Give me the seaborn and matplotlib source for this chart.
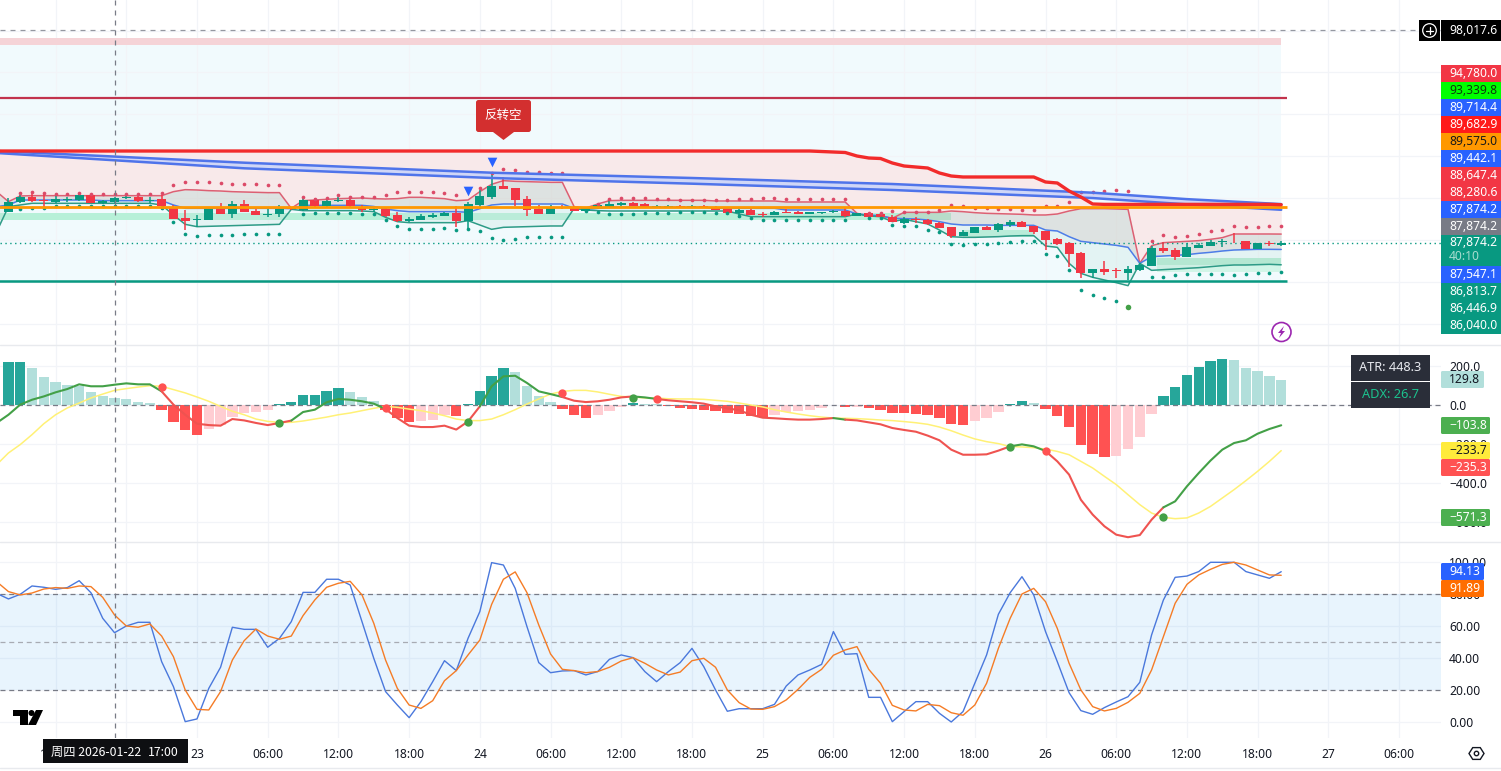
import numpy as np
import matplotlib
matplotlib.use("Agg")
import matplotlib.pyplot as plt
from matplotlib.patches import Circle, FancyBboxPatch, Polygon, Rectangle
import seaborn as sns

nan = float("nan")

# OHLC, one bar per hour, first bar is 2026-01-22 08:00
opens = [
    89352, 89798, 90053, 89909, 89814, 89909, 89909, 90132, 89750, 89814,
    90005, 90053, 89878, 89957, 89543, 89050, 88938, 88954, 89495, 89257,
    89718, 89384, 89209, 89257, 89511, 89432, 89909, 89639, 89862, 89909,
    89559, 89432, 89464, 89177, 88922, 88954, 89097, 89161, 89288, 88922,
    89687, 90069, 90578, 90498, 89957, 89479, 89257, 89591, 89591, 89400,
    89511, 89591, 89655, 89766, 89718, 89575, 89591, 89630, 89590, 89630,
    89591, 89479, 89273, 89448, 89257, 89209, 89352, 89336, 89257, 89304,
    89320, 89368, 89145, 89273, 89241, 89082, 88827, 89018, 88954, 88811,
    88620, 88190, 88349, 88636, 88476, 88715, 88858, 88667, 88429, 88047,
    87840, 87362, 86439, 86614, 86550, 86439, 86566, 86757, 87617, 87505,
    87203, 87633, 87728, 87887, 87951, 87935, 87569, 87855, 87776,
]
highs = [
    89989, 90148, 90307, 90228, 90148, 90069, 90228, 90132, 89909, 90069,
    90100, 90100, 90069, 90148, 89671, 89432, 89193, 89495, 89750, 89878,
    89909, 89464, 89464, 89671, 89530, 89989, 89989, 89941, 90069, 89989,
    89671, 89543, 89511, 89352, 89082, 89241, 89273, 89352, 89639, 89830,
    90387, 91183, 91024, 90498, 90100, 89671, 89671, 89671, 89620, 89560,
    89700, 89909, 89830, 89800, 89750, 89670, 89680, 89670, 89660, 89670,
    89630, 89510, 89480, 89480, 89352, 89380, 89464, 89360, 89340, 89350,
    89420, 89511, 89300, 89304, 89304, 89193, 89081, 89081, 88990, 88850,
    88636, 88476, 88620, 88660, 88795, 88954, 88906, 88690, 88450, 88078,
    87919, 87442, 86614, 86996, 86677, 86757, 86884, 87712, 87919, 87601,
    87871, 87871, 88000, 88031, 88317, 87960, 87860, 87951, 87951,
]
lows = [
    89352, 89750, 89798, 89511, 89750, 89830, 89878, 89750, 89718, 89782,
    89941, 89830, 89750, 89432, 89018, 88477, 88604, 88954, 89257, 89066,
    89352, 89177, 89113, 89113, 89440, 89400, 89591, 89591, 89814, 89511,
    89352, 89352, 89113, 88875, 88859, 88938, 89050, 89145, 88636, 88508,
    89495, 89941, 90435, 89623, 89145, 89241, 89241, 89464, 89384, 89370,
    89480, 89560, 89620, 89600, 89560, 89540, 89550, 89550, 89550, 89560,
    89432, 89304, 89034, 89209, 89113, 89180, 89304, 89257, 89240, 89241,
    89300, 89113, 89130, 89034, 88986, 88859, 88760, 88827, 88715, 88560,
    88078, 88190, 88349, 88492, 88397, 88604, 88604, 88285, 87521, 87760,
    86725, 86168, 86168, 86327, 86168, 86088, 86534, 86757, 87362, 87044,
    87203, 87601, 87728, 87680, 87871, 87585, 87569, 87712, 87712,
]
closes = [
    89830, 90069, 89862, 89862, 89957, 89957, 90132, 89750, 89878, 90005,
    90037, 89862, 89925, 89623, 89018, 88922, 89002, 89495, 89257, 89718,
    89352, 89209, 89257, 89495, 89464, 89909, 89639, 89862, 89909, 89639,
    89432, 89464, 89161, 88922, 89002, 89145, 89193, 89288, 88922, 89718,
    90100, 90578, 90435, 89909, 89432, 89241, 89527, 89543, 89384, 89543,
    89655, 89718, 89782, 89639, 89591, 89623, 89639, 89590, 89625, 89590,
    89432, 89304, 89448, 89209, 89209, 89352, 89304, 89257, 89320, 89336,
    89400, 89145, 89273, 89113, 89113, 88859, 89018, 88954, 88763, 88588,
    88190, 88381, 88604, 88492, 88747, 88858, 88620, 88381, 88015, 87824,
    87346, 86423, 86614, 86486, 86518, 86614, 86789, 87617, 87473, 87203,
    87649, 87760, 87903, 87967, 87935, 87585, 87840, 87824, 87874,
]

# stop dots over and under the candles
upper_dots = [
    nan, 90228, 90276, 90228, 90180, 90180, 90228, 90180, 90180, 90180,
    90180, 90180, 90180, 90228, 90610, 90785, 90785, 90753, 90721, 90658,
    90658, 90658, 90610, 90610, nan, 90037, 89941, 89989, 90132, 90069,
    90069, 90037, 90132, 90276, 90307, 90276, 90276, 90228, 90132, nan,
    90467, 91183, 91374, 91326, 91263, 91263, 91215, 91215, nan, nan,
    89718, 89941, 89989, 89989, 89989, 89941, 89941, 89893, 89893, 89893,
    89893, 89893, 89941, 89941, 89989, 89989, 89941, 89941, 89941, 89941,
    89941, 89941, nan, 89304, 89304, 89400, 89352, 89352, 89352, 89416,
    89670, 89623, 89543, 89511, 89463, 89463, 89416, 89416, 89623, 89623,
    89830, 90275, 90275, 90323, 90371, 90323, nan, 87967, 88222, 88126,
    88174, 88269, 88413, 88460, 88651, 88604, 88604, 88651, 88651,
]
lower_dots = [
    nan, 89495, 89511, 89511, 89639, 89639, 89639, 89639, 89639, 89639,
    89639, 89639, 89639, 89511, 88875, 88302, 88174, 88222, 88222, 88254,
    88302, 88302, 88302, 88302, nan, 89225, 89304, 89304, 89304, 89304,
    89225, 89225, 88938, 88652, 88540, 88508, 88508, 88556, 88461, 88540,
    88413, 88079, 87983, 88063, 88126, 88126, 88126, 88126, nan, 89400,
    89320, 89225, 89225, 89225, 89273, 89273, 89273, 89320, 89320, 89320,
    89273, 89273, 89129, 89034, 88938, 88938, 88938, 88938, 88938, 88938,
    88938, 88938, nan, 89034, 89034, 88700, 88683, 88683, 88492, 88397,
    87824, 87744, 87792, 87792, 87840, 87887, 87935, 87935, 87314, 87219,
    86550, 85595, 85356, 85213, 85070, 84799, nan, 86216, 86216, 86311,
    86359, 86359, 86359, 86359, 86311, 86359, 86407, 86407, 86447,
]

# band around the candles, these start one bar earlier (off the left edge)
upper_band = [
    90307, 89830, 90100, 90116, 90116, 90116, 90116, 90116, 90116, 90116,
    90116, 90116, 90116, 90116, 90116, 90307, 90403, 90387, 90355, 90339,
    90307, 90291, 90276, 90260, 90260, 89511, 89878, 89909, 89941, 89973,
    89989, 90005, 89973, 89957, 89973, 90037, 90037, 90005, 89973, 89878,
    89909, 90307, 90658, 90833, 90801, 90785, 90769, 90753, 90753, 89591,
    89527, 89718, 89878, 89893, 89893, 89893, 89893, 89893, 89893, 89893,
    89893, 89862, 89862, 89862, 89862, 89862, 89862, 89814, 89814, 89814,
    89814, 89814, 89814, 89273, 89145, 89145, 89034, 89320, 89320, 89320,
    89320, 89384, 89352, 89304, 89272, 89256, 89241, 89225, 89193, 89193,
    89241, 89384, 89495, 89495, 89495, 89479, 89463, 86884, 87728, 87871,
    87903, 87935, 87967, 88031, 88110, 88285, 88285, 88285, 88285, 88281,
]
mid_band = [
    89591, 89671, 89909, 89909, 89909, 89909, 89909, 89909, 89909, 89878,
    89878, 89878, 89878, 89878, 89878, 89671, 89511, 89511, 89511, 89511,
    89511, 89511, 89511, 89511, 89511, 89495, 89655, 89655, 89655, 89655,
    89655, 89655, 89600, 89480, 89400, 89352, 89352, 89352, 89352, 89352,
    89320, 89495, 89671, 89718, 89718, 89718, 89718, 89718, 89718, 89511,
    89464, 89511, 89560, 89560, 89560, 89560, 89560, 89560, 89560, 89560,
    89560, 89511, 89511, 89511, 89511, 89511, 89511, 89432, 89432, 89432,
    89432, 89432, 89432, 89241, 89193, 89161, 89034, 89018, 89002, 88954,
    88874, 88763, 88715, 88715, 88715, 88699, 88699, 88699, 88699, 88476,
    88429, 88158, 87935, 87871, 87808, 87744, 87649, 86884, 87203, 87235,
    87266, 87298, 87362, 87410, 87473, 87521, 87537, 87553, 87553, 87547,
]
lower_band = [
    88397, 89591, 89671, 89750, 89750, 89750, 89750, 89750, 89750, 89750,
    89750, 89750, 89750, 89750, 89671, 89193, 88747, 88636, 88652, 88668,
    88684, 88699, 88715, 88731, 88747, 89464, 89400, 89400, 89400, 89400,
    89400, 89384, 89352, 89082, 88875, 88827, 88827, 88827, 88827, 88827,
    88922, 88715, 88508, 88604, 88620, 88636, 88652, 88668, 88668, 89511,
    89432, 89400, 89384, 89384, 89384, 89384, 89384, 89384, 89384, 89384,
    89384, 89384, 89384, 89241, 89113, 89113, 89113, 89113, 89113, 89113,
    89113, 89113, 89113, 89241, 89145, 89113, 88875, 88986, 88874, 88763,
    88476, 88158, 88126, 88126, 88142, 88158, 88190, 88206, 88206, 87712,
    87649, 86884, 86407, 86216, 86088, 85961, 85818, 86884, 86550, 86582,
    86614, 86646, 86677, 86725, 86773, 86805, 86805, 86821, 86837, 86814,
]
thick_red = [92249] * 70 + [
    92225, 92201, 92178, 92010, 91915, 91891, 91676, 91533, 91485, 91437,
    91199, 91055, 91008, 91008, 91008, 91008, 91008, 91008, 91008, 90769,
    90721, 90339, 90052, 89718, 89700, 89700, 89700, 89700, 89700, 89700,
    89700, 89700, 89700, 89700, 89700, 89700, 89700, 89700, 89700, 89683,
]

# two slow averages, read at a few bars only
ema_hours = [-17, 4, 25, 42, 59, 76, 84, 92]
ema_upper = [92249, 91691, 91213, 90960, 90673, 90258, 89950, 89714]
ema_lower = [92154, 91423, 90960, 90688, 90387, 90002, 89700, 89442]

level_top_red = 94780
level_orange = 89575
level_green = 86040
level_high = 98017.6
level_last = 87874.2

hist = [
    222, 222, 191, 145, 120, 104, 99, 68, 48, 38,
    32, 17, 12, -24, -85, -126, -152, -121, -101, -60,
    -39, -37, -24, 3, 17, 53, 53, 73, 89, 68,
    43, 22, -24, -65, -85, -84, -75, -50, -55, 7,
    73, 150, 191, 171, 99, 48, 17, -19, -50, -65,
    -50, -29, -9, 12, 7, 3, -3, -15, -19, -24,
    -29, -41, -44, -55, -60, -50, -35, -33, -24, -14,
    -1, -10, -8, -14, -24, -39, -39, -44, -50, -65,
    -96, -101, -80, -65, -34, 7, 22, 10, -19, -55,
    -111, -203, -250, -265, -260, -224, -162, -44, 48, 94,
    156, 197, 227, 238, 232, 191, 176, 150, 130,
]
macd = [
    -92, -50, 2, 27, 44, 65, 82, 106, 96, 96,
    104, 111, 106, 106, 70, 2, -50, -96, -103, -106,
    -72, -79, -92, -103, -92, -80, -36, -24, 14, 31,
    27, 19, 7, -21, -67, -106, -113, -113, -106, -126,
    -84, -7, 96, 147, 150, 113, 70, 56, 41, 22,
    15, 19, 27, 39, 44, 39, 31, 24, 19, 14,
    7, -7, -17, -27, -50, -65, -68, -72, -75, -75,
    -72, -67, -75, -79, -89, -99, -118, -128, -137, -157,
    -181, -229, -255, -255, -253, -234, -212, -202, -212, -236,
    -289, -357, -486, -562, -622, -665, -678, -667, -588, -525,
    -494, -417, -349, -285, -229, -195, -181, -147, -123, -104,
]
signal = [
    -306, -246, -203, -152, -96, -50, -15, 10, 36, 56,
    75, 84, 92, 99, 96, 79, 62, 41, 19, -7,
    -32, -50, -72, -84, -89, -89, -82, -72, -62, -50,
    -41, -29, -17, -7, -12, -21, -29, -41, -55, -72,
    -80, -80, -72, -50, -24, 5, 31, 56, 70, 75,
    75, 67, 55, 44, 41, 36, 36, 32, 31, 31,
    29, 24, 19, 10, 0, -10, -24, -36, -46, -55,
    -62, -67, -68, -70, -73, -77, -80, -85, -91, -99,
    -113, -132, -154, -174, -188, -198, -213, -215, -219, -226,
    -238, -255, -289, -323, -366, -408, -460, -511, -554, -576,
    -583, -579, -554, -520, -477, -434, -388, -340, -289, -234,
]
cross_down_hours = [-3, 16, 31, 39, 72]
cross_down_values = [91, -15, 62, 31, -236]
cross_up_hours = [7, 23, 37, 69, 82]
cross_up_values = [-92, -87, 36, -215, -574]

stoch_k = [
    80.6, 77.1, 80, 85.2, 84.4, 83.1, 84.2, 88.5, 81, 65,
    56, 60.2, 62.5, 62.5, 37.9, 22.3, 0.4, 2.1, 21.2, 34.4,
    59.4, 58.1, 58.1, 46.9, 52.5, 62.9, 81.2, 81.2, 89.4, 89.4,
    85.8, 62.9, 40, 19.2, 10.8, 2.9, 12.9, 25.4, 38.5, 32.3,
    52.5, 69.2, 99.8, 98.3, 83.7, 59.8, 37.3, 31, 32.1, 32.3,
    29.6, 31.7, 39.4, 42.1, 40.4, 31.7, 25.4, 31.7, 37.3, 46.2,
    34.8, 20.2, 6.9, 8.5, 8.5, 8.5, 11.2, 22.7, 29.6, 32.7,
    36.2, 56.7, 42.5, 42.9, 15.6, 15.6, 0.4, 6.7, 12.9, 12.9,
    5.6, 0.2, 6.7, 24.4, 42.1, 67.5, 81, 91, 79.6, 56.7,
    37.9, 18.5, 7.3, 5, 9.2, 12.7, 16, 25, 54.6, 76.4,
    90.6, 91.4, 94.2, 100, 100, 100, 94.2, 92.1, 90, 94.13,
]
stoch_d = [
    87.9, 81.7, 79.6, 80.8, 83.3, 84.2, 83.7, 85.2, 84.8, 78.1,
    67.1, 60.2, 59.4, 61.5, 53.9, 41, 20.2, 8.1, 7.7, 19.2,
    38.9, 51, 58.3, 53.9, 51.9, 53.9, 66.7, 76.5, 84.4, 86.9,
    88.1, 79.6, 61.9, 38.9, 21.2, 10.8, 8.7, 13.5, 26, 32.3,
    42.1, 51.4, 73.7, 89.4, 94, 81, 60.8, 42.7, 33.1, 32.3,
    31, 31.7, 34.4, 38.3, 40.4, 36.9, 32.7, 29.6, 31.4, 38.5,
    40, 34.4, 20.2, 12.3, 8.3, 8.1, 9.8, 14, 20.6, 28.1,
    33.1, 41.9, 45.2, 47.3, 33.1, 24.4, 10.6, 7.7, 7.1, 11.2,
    10.4, 6, 4.4, 10.8, 24.4, 46.2, 65, 80.2, 83.7, 75.4,
    58.7, 36.9, 20.2, 9.8, 7.1, 8.7, 12.5, 18.1, 32.7, 53.5,
    74.4, 86.2, 92.1, 95.6, 98.7, 100, 98.3, 95.2, 92.1, 91.89,
]

time_ticks = [-12, -6, 0, 6, 12, 18, 24, 30, 36, 42, 48, 54, 60, 66, 72, 78, 84, 90, 96, 102]
time_labels = ["12:00", "18:00", "23", "06:00", "12:00", "18:00", "24", "06:00", "12:00", "18:00",
               "25", "06:00", "12:00", "18:00", "26", "06:00", "12:00", "18:00", "27", "06:00"]

# right hand price tags: text, colour, text colour, top, bottom
price_tags = [
    ("94,780.0", "#f23645", "white", 65, 82),
    ("93,339.8", "#00ff00", "#0b3d0b", 82, 99),
    ("89,714.4", "#2962ff", "white", 99, 116),
    ("89,682.9", "#ff1a1a", "white", 116, 133),
    ("89,575.0", "#ff9800", "#1a1a1a", 133, 150),
    ("89,442.1", "#2962ff", "white", 150, 167),
    ("88,647.4", "#f23645", "white", 167, 184),
    ("88,280.6", "#f23645", "white", 184, 201),
    ("87,874.2", "#2962ff", "white", 201, 218),
    ("87,874.2", "#787b86", "white", 218, 235),
    ("87,547.1", "#2962ff", "white", 266, 283),
    ("86,813.7", "#089981", "white", 283, 300),
    ("86,446.9", "#089981", "white", 300, 317),
    ("86,040.0", "#089981", "white", 317, 334),
]
macd_tags = [
    ("129.8", "#b2dfdb", "#131722", 371, 388, 1484),
    ("−103.8", "#4caf50", "white", 417, 434, 1490),
    ("−233.7", "#ffeb3b", "#131722", 442, 459, 1490),
    ("−235.3", "#ff5252", "white", 459, 476, 1490),
    ("−571.3", "#4caf50", "white", 509, 526, 1490),
    ("94.13", "#2962ff", "white", 563, 580, 1484),
    ("91.89", "#ff6d00", "white", 580, 597, 1484),
]

UP = "#089981"
DOWN = "#f23645"
W, H = 1501, 771
PLOT_RIGHT = 1441
FS = 8.7


def add_panel(fig, top, bottom):
    ax = fig.add_axes([0, 1 - bottom / H, PLOT_RIGHT / W, (bottom - top) / H])
    ax.set_xlim(-197 / 11.785, (PLOT_RIGHT - 197) / 11.785)
    ax.set_xticks(time_ticks)
    ax.set_xticklabels([])
    ax.grid(True, color="#f2f4f8", lw=0.9)
    ax.set_axisbelow(True)
    ax.tick_params(length=0, labelsize=FS, labelcolor="#131722")
    ax.yaxis.tick_right()
    ax.set_facecolor("white")
    for s in ax.spines.values():
        s.set_visible(False)
    return ax


def line(ax, x, y, color, lw, z=2):
    sns.lineplot(x=x, y=y, ax=ax, color=color, lw=lw, zorder=z, legend=False,
                 estimator=None, sort=False)
    ax.set_xlabel("")
    ax.set_ylabel("")


def draw_main(ax, hours, line_hours):
    o, c = np.array(opens), np.array(closes)
    up = c >= o
    colors = [UP if u else DOWN for u in up]

    ax.set_ylim(99461 - 345 * 47.76, 99461)
    ax.set_yticks([84000, 86000, 88000, 90000, 92000, 94000, 96000, 98000])
    ax.set_yticklabels([])

    right = hours[-1]
    ax.fill_between([line_hours[0], right], 97312, level_green, color="#f1fafd", lw=0, zorder=0.5)
    ax.fill_between([line_hours[0], right], 97312, 97646, color="#f5d3d7", lw=0, zorder=0.6)

    ub = np.array(upper_band)
    mb = np.array(mid_band)
    lb = np.array(lower_band)
    ax.fill_between(line_hours, thick_red, ub, color="#f8e9ea", lw=0, zorder=1)
    ax.fill_between([line_hours[0], 64], 88954, 89290, color="#b7f0d8", lw=0, zorder=1.1)
    ax.fill_between([65, 71], 88158, 88476, color="#b7f0d8", lw=0, zorder=1.1)
    ax.fill_between([81.5, right], 86805, 87155, color="#aeeacf", lw=0, zorder=1.1)
    ax.fill_between([81.5, right], 86486, 86805, color="#d2f5e8", lw=0, zorder=1.1)
    ax.fill_between(line_hours, ub, mb, color="#b8b8ae", alpha=0.35, lw=0, zorder=1.3)
    ax.fill_between(line_hours, mb, lb, color="#c3e3dc", alpha=0.3, lw=0, zorder=1.3)
    ax.fill_between(ema_hours, ema_upper, ema_lower, color="#cfd6f7", lw=0, zorder=1.4)

    line(ax, line_hours, upper_band, "#dc6073", 1.1)
    line(ax, line_hours, mid_band, "#4d7de8", 1.1)
    line(ax, line_hours, lower_band, "#2e9b87", 1.1)

    ax.vlines(hours, lows, highs, colors=colors, lw=1.1, zorder=3)
    ax.bar(hours, np.abs(c - o), bottom=np.minimum(o, c), width=0.76, color=colors, lw=0, zorder=3.1)

    sns.scatterplot(x=hours, y=upper_dots, ax=ax, color="#dc4a68", s=7, lw=0, zorder=4, legend=False)
    sns.scatterplot(x=hours, y=lower_dots, ax=ax, color=UP, s=7, lw=0, zorder=4, legend=False)
    sns.scatterplot(x=[79], y=[84799], ax=ax, color="#43a047", s=16, lw=0, zorder=4.1, legend=False)
    sns.scatterplot(x=[23, 25], y=[90339, 91724], ax=ax, color="#2962ff", s=48, marker="v",
                    lw=0, zorder=4.1, legend=False)

    line(ax, ema_hours, ema_upper, "#4f74ea", 1.8, z=4.4)
    line(ax, ema_hours, ema_lower, "#4f74ea", 1.8, z=4.4)
    line(ax, line_hours, thick_red, "#f22b2b", 2.4, z=4.6)

    end = 92.5
    ax.hlines(level_top_red, line_hours[0], end, color="#c2334d", lw=1.6, zorder=2.5)
    ax.hlines(level_orange, line_hours[0], end, color="#ff9800", lw=2.0, zorder=4.5)
    ax.hlines(level_green, line_hours[0], end, color=UP, lw=1.8, zorder=2.5)
    ax.axhline(level_high, color="#9598a1", lw=0.9, ls=(0, (4, 4)), zorder=2)
    ax.axhline(level_last, color=UP, lw=1, ls=(0, (1, 2.5)), zorder=2.6)
    ax.axvline(-7, color="#787b86", lw=0.9, ls=(0, (4, 4)), zorder=6)
    ax.set_xlabel("")
    ax.set_ylabel("")


def draw_macd(ax, hours, line_hours):
    ax.set_ylim((405 - 541.5) * 5.128, (405 - 345.5) * 5.128)
    ax.set_yticks([-600, -400, -200, 0, 200])
    ax.set_yticklabels(["−600.0", "−400.0", "−200.0", "0.0", "200.0"])
    for label in ax.get_yticklabels():
        label.set_ha("left")
    ax.tick_params(axis="y", pad=5.8)

    prev = [hist[0] - 1] + hist[:-1]
    colors = []
    for v, p in zip(hist, prev):
        if v >= 0:
            colors.append("#26a69a" if v >= p else "#b2dfdb")
        else:
            colors.append("#ffcdd2" if v > p else "#ff5252")
    ax.bar(hours, hist, width=0.88, color=colors, lw=0, zorder=2)
    ax.axhline(0, color="#787b86", lw=0.9, ls=(0, (4, 3)), zorder=2.2)

    line(ax, line_hours, signal, "#fff176", 1.1, z=3)

    # the fast line changes colour with its position against the signal line
    m, s = np.array(macd), np.array(signal)
    above = m >= s
    start = 0
    for i in range(1, len(m) + 1):
        if i == len(m) or above[i] != above[start]:
            stop = min(i + 1, len(m))
            line(ax, line_hours[start:stop], m[start:stop], "#43a047" if above[start] else "#ef5350", 1.5, z=3.2)
            start = i
    sns.scatterplot(x=cross_down_hours, y=cross_down_values, ax=ax, color="#ff5252", s=36, lw=0,
                    zorder=4, legend=False)
    sns.scatterplot(x=cross_up_hours, y=cross_up_values, ax=ax, color="#43a047", s=36, lw=0,
                    zorder=4, legend=False)
    ax.axvline(-7, color="#787b86", lw=0.9, ls=(0, (4, 4)), zorder=6)
    ax.set_xlabel("")
    ax.set_ylabel("")


def draw_stoch(ax, line_hours):
    ax.set_ylim((722.3 - 738) / 1.6, (722.3 - 542) / 1.6)
    ax.set_yticks([0, 20, 40, 60, 80, 100])
    ax.set_yticklabels(["0.00", "20.00", "40.00", "60.00", "80.00", "100.00"])
    for label in ax.get_yticklabels():
        label.set_ha("left")
    ax.tick_params(axis="y", pad=5.8)
    ax.set_xticklabels(time_labels)
    ax.tick_params(axis="x", pad=7)
    ax.get_xticklabels()[time_labels.index("26")].set_fontweight("bold")

    ax.axhspan(20, 80, color="#2196f3", alpha=0.1, lw=0, zorder=1)
    for level, col in [(80, "#787b86"), (50, "#a8abb3"), (20, "#787b86")]:
        ax.axhline(level, color=col, lw=0.9, ls=(0, (4, 3)), zorder=2)
    line(ax, line_hours, stoch_k, "#4a78dc", 1.0, z=3)
    line(ax, line_hours, stoch_d, "#f57c26", 1.0, z=3.1)
    ax.axvline(-7, color="#787b86", lw=0.9, ls=(0, (4, 4)), zorder=6)
    ax.set_xlabel("")
    ax.set_ylabel("")


def draw_overlay(fig):
    ov = fig.add_axes([0, 0, 1, 1], zorder=10)
    ov.set_xlim(0, W)
    ov.set_ylim(H, 0)
    ov.axis("off")
    ov.patch.set_alpha(0)

    for y in (345, 541.5, 768):
        ov.plot([0, W], [y, y], color="#e8eaee", lw=1)

    # price tags
    for text, col, tcol, top, bottom in price_tags:
        ov.add_patch(Rectangle((1441, top), 60, bottom - top, color=col, lw=0))
        ov.text(1449, (top + bottom) / 2, text, color=tcol, fontsize=FS, va="center", ha="left")
    ov.add_patch(Rectangle((1441, 235), 60, 31, color=UP, lw=0))
    ov.text(1449, 243, "87,874.2", color="white", fontsize=FS, va="center")
    ov.text(1449, 256.5, "40:10", color="#a8dccf", fontsize=FS, va="center")

    ov.add_patch(Rectangle((1419, 20), 21, 21, color="black", lw=0))
    ov.add_patch(Circle((1429.5, 30.5), 6.8, fc="none", ec="white", lw=0.9))
    ov.plot([1426, 1433], [30.5, 30.5], color="white", lw=0.9)
    ov.plot([1429.5, 1429.5], [27, 34], color="white", lw=0.9)
    ov.add_patch(Rectangle((1441, 20), 60, 21, color="black", lw=0))
    ov.text(1449, 30.5, "98,017.6", color="white", fontsize=FS, va="center")

    for text, col, tcol, top, bottom, right in macd_tags:
        ov.add_patch(FancyBboxPatch((1441, top), right - 1441, bottom - top, boxstyle="round,pad=0,rounding_size=1.5",
                                    fc=col, ec="none"))
        ov.text(1449, (top + bottom) / 2, text, color=tcol, fontsize=FS, va="center")

    # ATR / ADX boxes
    ov.add_patch(Rectangle((1351, 355), 79, 25.5, color="#2a2e39", lw=0))
    ov.text(1390.5, 367.5, "ATR: 448.3", color="#e8eaf0", fontsize=9.2, ha="center", va="center")
    ov.add_patch(Rectangle((1351, 382), 79, 25.5, color="#2a2e39", lw=0))
    ov.text(1390.5, 394.5, "ADX: 26.7", color="#1cc28e", fontsize=9.2, ha="center", va="center")

    # signal flag
    ov.add_patch(FancyBboxPatch((476, 100), 55, 32, boxstyle="round,pad=0,rounding_size=2.5",
                                fc="#d32f2f", ec="none"))
    ov.add_patch(Polygon([[493, 132], [514, 132], [503.5, 140]], color="#d32f2f", lw=0))
    ov.text(503.5, 115, "反转空", color="white", fontsize=9, ha="center", va="center",
            family=["Noto Sans CJK SC", "DejaVu Sans"])

    # date tooltip
    ov.add_patch(Rectangle((43, 739), 145, 24, color="#0e0f12", lw=0))
    ov.text(51, 752, "周四 2026-01-22", color="white", fontsize=8.8, va="center",
            family=["Noto Sans CJK SC", "DejaVu Sans"])
    ov.text(179, 752, "17:00", color="white", fontsize=8.8, va="center", ha="right",
            family=["Noto Sans CJK SC", "DejaVu Sans"])

    # TradingView mark
    ov.add_patch(Polygon([[13, 710], [27.5, 710], [27.5, 725], [20, 725], [20, 716], [13, 716]], color="black", lw=0))
    ov.add_patch(Circle((31.5, 713), 3, color="black", lw=0))
    ov.add_patch(Polygon([[36, 710], [43, 710], [36, 725], [28, 725]], color="black", lw=0))

    # lightning button
    ov.add_patch(Circle((1281.5, 332), 9.5, fc="white", ec="#9c27b0", lw=1.2))
    ov.add_patch(Polygon([[1284, 326], [1278, 333], [1281, 333], [1279, 338], [1285, 331], [1282, 331]],
                         color="#9c27b0", lw=0))

    # settings hexagon
    ang = np.deg2rad(np.arange(0, 360, 60))
    hexagon = np.c_[1476.5 + 7.5 * np.cos(ang), 753.5 + 6.8 * np.sin(ang)]
    ov.add_patch(Polygon(hexagon, fc="none", ec="#131722", lw=1))
    ov.add_patch(Circle((1476.5, 753.5), 2.2, fc="none", ec="#131722", lw=1))


def main():
    sns.set_theme(style="white")
    plt.rcParams["font.family"] = ["Noto Sans", "DejaVu Sans"]
    plt.rcParams["axes.unicode_minus"] = False

    hours = np.arange(len(opens)) - 16
    line_hours = np.arange(len(upper_band)) - 17

    fig = plt.figure(figsize=(W / 100, H / 100), dpi=100, facecolor="white")
    ax_main = add_panel(fig, 0, 345)
    ax_macd = add_panel(fig, 345.5, 541.5)
    ax_stoch = add_panel(fig, 542, 738)

    draw_main(ax_main, hours, line_hours)
    draw_macd(ax_macd, hours, line_hours)
    draw_stoch(ax_stoch, line_hours)
    draw_overlay(fig)

    fig.savefig("out.png", dpi=100)
    plt.close(fig)


if __name__ == "__main__":
    main()
